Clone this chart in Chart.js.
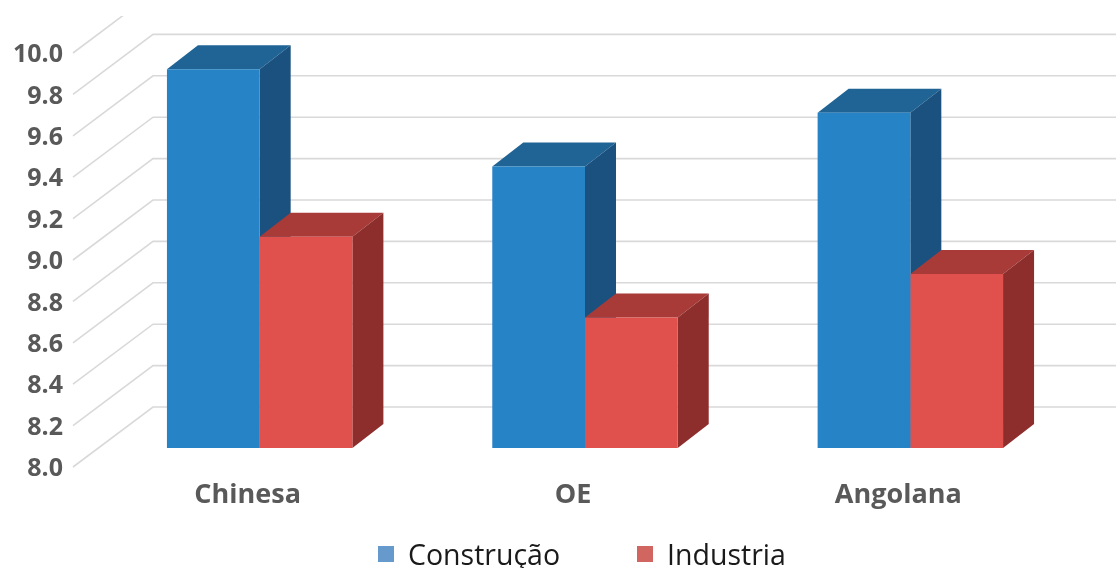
<!DOCTYPE html>
<html>
<head>
<meta charset="utf-8">
<script src="https://cdn.jsdelivr.net/npm/chart.js@4.4.1/dist/chart.umd.min.js"></script>
<style>
    html, body { margin: 0; padding: 0; background: #fff; }
    #wrap { position: relative; width: 1116px; height: 568px; font-family: "Open Sans", Lato, sans-serif; }
    #legend { position: absolute; left: 378px; top: 537px; display: flex; align-items: center; }
    .item { display: flex; align-items: center; margin-right: 77px; }
    .box { width: 16px; height: 16px; margin-right: 14px; }
    .label { font-size: 28.5px; color: #1a1a1a; line-height: 34px; }
</style>
</head>
<body>
<div id="wrap">
    <canvas id="chart" width="1116" height="568"></canvas>
    <div id="legend"></div>
</div>
<script>
// data
const categories = ['Chinesa', 'OE', 'Angolana'];
const construcao = [9.83, 9.36, 9.62];
const industria = [9.02, 8.63, 8.84];
const seriesNames = ['Construção', 'Industria'];
const yMin = 8.0;
const yMax = 10.0;
const yStep = 0.2;

// face colours: front, top, side, legend swatch
const palette = [
    { front: '#2683C6', top: '#1F6495', side: '#1B517F', legend: '#6699CC' },
    { front: '#E0504C', top: '#A83B38', side: '#8D2D2C', legend: '#D0665F' }
];

// oblique depth of the bars and of the back wall
const depth = { dx: 31, dy: -24 };
const wall = { front: -24, back: 56, frontDy: 19, backDy: -41 };

const fake3d = {
    id: 'fake3d',
    beforeDatasetsDraw(chart) {
        const ctx = chart.ctx;
        const yScale = chart.scales.y;
        const area = chart.chartArea;

        // grid: diagonal floor/side lines + back wall lines
        ctx.save();
        ctx.beginPath();
        ctx.rect(0, 16, chart.width, chart.height);
        ctx.clip();
        ctx.strokeStyle = '#D9D9D9';
        ctx.lineWidth = 1.6;
        yScale.ticks.forEach(t => {
            const yb = yScale.getPixelForValue(t.value);
            ctx.beginPath();
            ctx.moveTo(area.left + wall.front, yb + wall.frontDy);
            ctx.lineTo(area.left + wall.back, yb + wall.backDy);
            ctx.lineTo(chart.width, yb + wall.backDy);
            ctx.stroke();
        });
        ctx.restore();

        // top and side faces, drawn behind the front faces
        const floor = yScale.getPixelForValue(yMin);
        const metas = chart.data.datasets.map((d, i) => chart.getDatasetMeta(i));
        categories.forEach((c, ci) => {
            metas.forEach((meta, di) => {
                const bar = meta.data[ci];
                const left = bar.x - bar.width / 2;
                const right = bar.x + bar.width / 2;
                const top = bar.y;
                const base = Math.min(bar.base, floor);
                const col = palette[di];

                ctx.fillStyle = col.top;
                ctx.beginPath();
                ctx.moveTo(left, top);
                ctx.lineTo(right, top);
                ctx.lineTo(right + depth.dx, top + depth.dy);
                ctx.lineTo(left + depth.dx, top + depth.dy);
                ctx.closePath();
                ctx.fill();

                ctx.fillStyle = col.side;
                ctx.beginPath();
                ctx.moveTo(right, top);
                ctx.lineTo(right + depth.dx, top + depth.dy);
                ctx.lineTo(right + depth.dx, base + depth.dy);
                ctx.lineTo(right, base);
                ctx.closePath();
                ctx.fill();
            });
        });
    }
};

const chart = new Chart(document.getElementById('chart'), {
    type: 'bar',
    data: {
        labels: categories,
        datasets: [
            { label: seriesNames[0], data: construcao, backgroundColor: palette[0].front },
            { label: seriesNames[1], data: industria, backgroundColor: palette[1].front }
        ]
    },
    options: {
        responsive: false,
        animation: false,
        barPercentage: 1,
        categoryPercentage: 0.57,
        layout: { padding: { left: 8, right: 43, top: 34, bottom: 50 } },
        plugins: {
            legend: { display: false },
            tooltip: { enabled: false }
        },
        scales: {
            y: {
                min: yMin,
                max: yMax,
                afterFit: scale => {
                    scale.width = 89;
                    scale.paddingTop = 0;
                    scale.paddingBottom = 0;
                },
                grid: { display: false, drawTicks: false },
                border: { display: false },
                ticks: {
                    stepSize: yStep,
                    padding: 34,
                    labelOffset: 21,
                    color: '#595959',
                    font: { family: 'Open Sans', size: 25, weight: 'bold' },
                    callback: v => Number(v).toFixed(1)
                }
            },
            x: {
                afterFit: scale => { scale.height = 70; },
                grid: { display: false, drawTicks: false },
                border: { display: false },
                ticks: {
                    padding: 31,
                    labelOffset: -12,
                    color: '#595959',
                    font: { family: 'Open Sans', size: 27, weight: 'bold' }
                }
            }
        }
    },
    plugins: [fake3d]
});

// legend built from the datasets
const legend = document.getElementById('legend');
chart.data.datasets.forEach((ds, i) => {
    const item = document.createElement('div');
    item.className = 'item';
    const box = document.createElement('span');
    box.className = 'box';
    box.style.background = palette[i].legend;
    const label = document.createElement('span');
    label.className = 'label';
    label.textContent = ds.label;
    item.appendChild(box);
    item.appendChild(label);
    legend.appendChild(item);
});
</script>
</body>
</html>
